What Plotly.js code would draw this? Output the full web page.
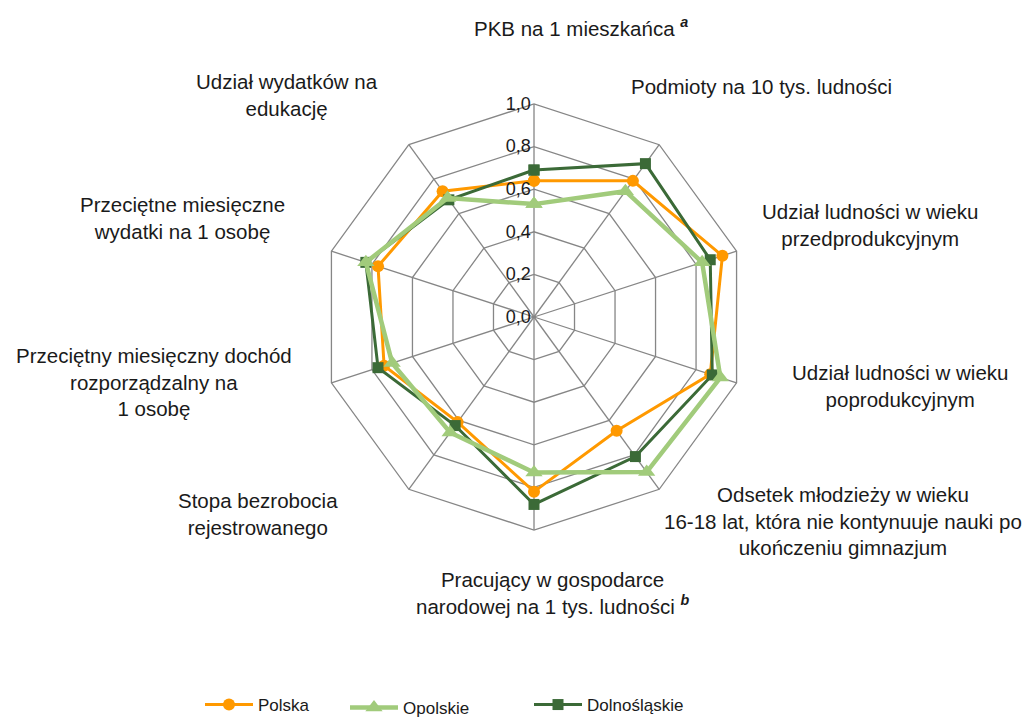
<!DOCTYPE html>
<html><head><meta charset="utf-8">
<script src="https://cdn.plot.ly/plotly-3.0.1.min.js"></script>
<style>body{margin:0;background:#fff}#chart{width:1033px;height:720px}</style>
</head><body><div id="chart"></div>
<script>
// ---- data ----
const categories = [
  "PKB na 1 mieszkańca <sup><b><i>a</i></b></sup>",
  "Podmioty na 10 tys. ludności",
  "Udział ludności w wieku<br>przedprodukcyjnym",
  "Udział ludności w wieku<br>poprodukcyjnym",
  "Odsetek młodzieży w wieku<br>16-18 lat, która nie kontynuuje nauki po<br>ukończeniu gimnazjum",
  "Pracujący w gospodarce<br>narodowej na 1 tys. ludności <sup><b><i>b</i></b></sup>",
  "Stopa bezrobocia<br>rejestrowanego",
  "Przeciętny miesięczny dochód<br>rozporządzalny na<br>1 osobę",
  "Przeciętne miesięczne<br>wydatki na 1 osobę",
  "Udział wydatków na<br>edukację"
];
const seriesNames  = ["Polska", "Opolskie", "Dolnośląskie"];
const polska       = [0.64, 0.79, 0.93, 0.87, 0.66, 0.82, 0.61, 0.74, 0.77, 0.73];
const opolskie     = [0.53, 0.73, 0.83, 0.92, 0.90, 0.73, 0.67, 0.70, 0.83, 0.69];
const dolnoslaskie = [0.69, 0.89, 0.87, 0.88, 0.81, 0.88, 0.63, 0.77, 0.83, 0.68];
const radialTicks = [0, 0.2, 0.4, 0.6, 0.8, 1.0];

// ---- layout helpers (positions of category labels, in pixels) ----
const W = 1033, H = 720;
const labelPos = [
  [581, 27], [761, 86], [870, 225], [900, 386], [843, 521],
  [552, 593], [258, 514], [154, 382], [182, 218], [287, 95]
];
const thetaIdx = categories.map((c, i) => "c" + i);
function closed(a){ return a.concat([a[0]]); }

const styles = {
  "Polska":       {color: "#FF9900", sym: "circle", size: 12, w: 3, legend: "legend"},
  "Opolskie":     {color: "#A1CB7B", sym: "triangle-up", size: 15, w: 4.5, legend: "legend2"},
  "Dolnośląskie": {color: "#3B6A37", sym: "square", size: 11, w: 3, legend: "legend3"}
};
const values = {"Polska": polska, "Opolskie": opolskie, "Dolnośląskie": dolnoslaskie};
const drawOrder = ["Polska", "Dolnośląskie", "Opolskie"];

const traces = drawOrder.map(n => {
  const s = styles[n];
  return {
    type: "scatterpolar", mode: "lines+markers", name: n,
    r: closed(values[n]), theta: closed(thetaIdx), legend: s.legend,
    line: {color: s.color, width: s.w},
    marker: {color: s.color, symbol: s.sym, size: s.size},
    hoverinfo: "skip"
  };
});

function legendAt(xpx, ypx){
  return {orientation: "h", x: xpx / W, xanchor: "left", y: 1 - ypx / H, yanchor: "middle",
          font: {size: 17, color: "#1a1a1a"}, bgcolor: "rgba(0,0,0,0)", itemwidth: 48};
}

const cx = 534, cy = 317, R = 213;
const layout = {
  width: W, height: H,
  margin: {l: 0, r: 0, t: 0, b: 0, autoexpand: false},
  paper_bgcolor: "#fff",
  separators: ",.",
  font: {family: "Liberation Sans, Arial, sans-serif", color: "#1a1a1a"},
  showlegend: true,
  legend: legendAt(200, 705),
  legend2: legendAt(345, 708),
  legend3: legendAt(529, 705),
  polar: {
    domain: {x: [(cx - R) / W, (cx + R) / W], y: [(H - cy - R) / H, (H - cy + R) / H]},
    gridshape: "linear",
    bgcolor: "rgba(0,0,0,0)",
    angularaxis: {
      type: "category", direction: "clockwise", rotation: 90,
      showticklabels: false, ticks: "",
      showline: true, linecolor: "#868686", linewidth: 1.3,
      showgrid: true, gridcolor: "#868686", gridwidth: 1.3
    },
    radialaxis: {
      range: [0, 1], angle: 90, side: "counterclockwise",
      tickvals: radialTicks, tickformat: ".1f", tickangle: 90,
      showline: false, ticks: "", showgrid: true, gridcolor: "#868686", gridwidth: 1.3,
      tickfont: {size: 18, color: "#1a1a1a"}
    }
  },
  annotations: categories.map((c, i) => ({
    text: c, xref: "paper", yref: "paper",
    x: labelPos[i][0] / W, y: 1 - labelPos[i][1] / H,
    xanchor: "center", yanchor: "middle", align: "center", showarrow: false,
    font: {size: 20.5, color: "#1a1a1a"}
  }))
};
Plotly.newPlot("chart", traces, layout, {displayModeBar: false, staticPlot: true});
</script></body></html>
